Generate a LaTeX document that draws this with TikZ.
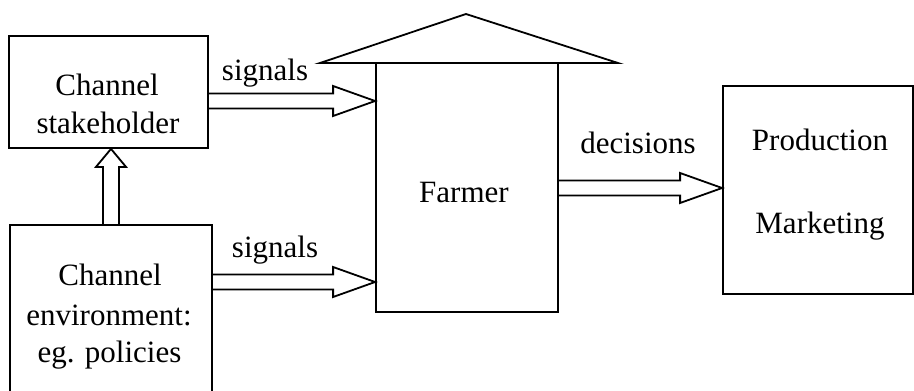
\documentclass[tikz,border=0pt]{standalone}
\usepackage{fontspec}
\setmainfont{Liberation Serif}
\usetikzlibrary{calc}

% hollow block arrow pointing right: tail point, tip point
\newcommand\hfatarrow[2]{%
  \draw let \p1=(#1), \p2=(#2) in
    (\x1,\y1+7.5pt) -- (\x2-42pt,\y1+7.5pt) -- (\x2-42pt,\y1+15pt)
    -- (\x2,\y2) -- (\x2-42pt,\y1-15pt) -- (\x2-42pt,\y1-7.5pt) -- (\x1,\y1-7.5pt);
}
% hollow block arrow pointing up: tail point, tip point
\newcommand\vfatarrow[2]{%
  \draw let \p1=(#1), \p2=(#2) in
    (\x1-8pt,\y1) -- (\x1-8pt,\y2-18pt) -- (\x1-15pt,\y2-18pt)
    -- (\x2,\y2) -- (\x1+15pt,\y2-18pt) -- (\x1+8pt,\y2-18pt) -- (\x1+8pt,\y1);
}

\begin{document}
\begin{tikzpicture}[x=1pt,y=-1pt,line width=1.8pt,
  box/.style={draw, rectangle, inner sep=0pt},
  lbl/.style={anchor=base, inner sep=0pt, font=\fontsize{31}{37}\selectfont}]
\useasboundingbox (0,0) rectangle (914,391);

% boxes
\node[box, minimum width=199pt, minimum height=112pt] (stake)  at (108.5,92)  {};
\node[box, minimum width=202pt, minimum height=172pt] (env)    at (111,311)   {};
\node[box, minimum width=182pt, minimum height=249pt] (farmer) at (467,187.5) {};
\node[box, minimum width=190pt, minimum height=208pt] (prod)   at (818,190)   {};

% roof over the farmer
\coordinate (roofL) at (320,63);
\coordinate (roofT) at (466,14);
\coordinate (roofR) at (618,63);
\draw (roofL) -- (roofT) -- (roofR) -- cycle;

% texts
\node[lbl] (stakeA) at (107,95)  {Channel};
\node[lbl] (stakeB) at (108,133) {stakeholder};
\node[lbl] (envA)   at (110,285) {Channel};
\node[lbl] (envB)   at (109,325) {environment:};
\node[lbl] (envC)   at (109.5,362) {eg. policies};
\node[lbl] (farmerT) at (464,202) {Farmer};
\node[lbl] (prodA)  at (820,150) {Production};
\node[lbl] (prodB)  at (820,233) {Marketing};
\node[lbl] (sig1)   at (265,80)  {signals};
\node[lbl] (sig2)   at (275,257) {signals};
\node[lbl] (dec)    at (638,153) {decisions};

% arrow heights
\coordinate (h1) at (0,101);
\coordinate (h2) at (0,282);
\coordinate (h3) at (0,188);
\coordinate (v1) at (111,0);

\hfatarrow{stake.east |- h1}{farmer.west |- h1}
\hfatarrow{env.east |- h2}{farmer.west |- h2}
\hfatarrow{farmer.east |- h3}{prod.west |- h3}
\vfatarrow{env.north -| v1}{stake.south -| v1}
\end{tikzpicture}
\end{document}
